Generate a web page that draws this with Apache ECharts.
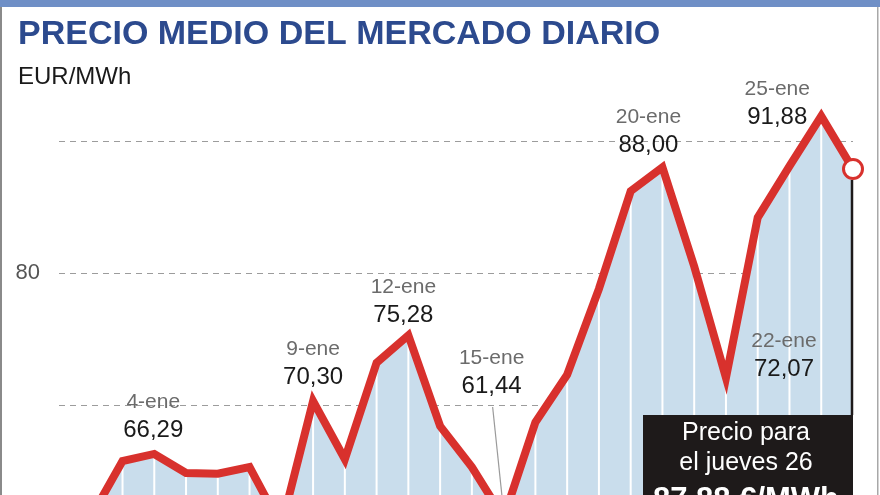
<!DOCTYPE html>
<html>
<head>
<meta charset="utf-8">
<script src="https://cdn.jsdelivr.net/npm/echarts@6/dist/echarts.min.js"></script>
<style>
  html, body { margin: 0; padding: 0; background: #ffffff; }
  #chart { width: 880px; height: 495px; }
</style>
</head>
<body>
<div id="chart"></div>
<script>
// ---- data ----
const days = ['1-ene','2-ene','3-ene','4-ene','5-ene','6-ene','7-ene','8-ene','9-ene','10-ene','11-ene','12-ene','13-ene',
              '14-ene','15-ene','16-ene','17-ene','18-ene','19-ene','20-ene','21-ene','22-ene','23-ene','24-ene','25-ene','26-ene'];
const prices = [60.0, 61.5, 65.75, 66.29, 64.85, 64.8, 65.3, 60.8, 70.30, 65.9, 73.2, 75.28, 68.4,
                65.3, 61.44, 68.7, 72.3, 78.8, 86.2, 88.00, 80.5, 72.07, 84.2, 88.1, 91.88, 87.88];
const labeledDays = ['4-ene','9-ene','12-ene','15-ene','20-ene','22-ene','25-ene'];
const yLabelTicks = [80];
const titleText = 'PRECIO MEDIO DEL MERCADO DIARIO';
const unitText = 'EUR/MWh';
const boxLines = ['Precio para', 'el jueves 26', '87,88 €/MWh'];

// ---- styles ----
const FONT = '"Liberation Sans", Arial, Helvetica, sans-serif';
const RED = '#d8312d';
const labelOffsets = {
  '4-ene': [-1, -4], '9-ene': [0, -4], '12-ene': [-5, 0], '15-ene': [-12, -112],
  '20-ene': [-14, -2], '22-ene': [58, 12], '25-ene': [-44, 21]
};
const fmt = v => v.toFixed(2).replace('.', ',');

const lastIdx = prices.length - 1;
const lineData = prices.map((v, i) => {
  const item = { value: v };
  const d = days[i];
  if (labeledDays.indexOf(d) >= 0) {
    item.label = {
      show: true,
      position: 'top',
      distance: 5,
      offset: labelOffsets[d],
      formatter: '{d|' + d + '}\n{v|' + fmt(v) + '}'
    };
  }
  if (i === lastIdx) {
    item.symbol = 'circle';
    item.symbolSize = 19;
    item.itemStyle = { color: '#ffffff', borderColor: RED, borderWidth: 3 };
  }
  return item;
});

const chart = echarts.init(document.getElementById('chart'), null, { renderer: 'canvas' });

const option = {
  animation: false,
  backgroundColor: '#ffffff',
  grid: { left: 59, width: 794, top: 141, height: 528, containLabel: false, outerBoundsMode: 'none' },
  xAxis: {
    type: 'category',
    data: days,
    boundaryGap: false,
    axisLine: { show: false }, axisTick: { show: false }, axisLabel: { show: false },
    splitLine: { show: false }
  },
  yAxis: {
    type: 'value',
    min: 50, max: 90, interval: 10,
    axisLine: { show: false }, axisTick: { show: false },
    axisLabel: {
      margin: 19,
      fontFamily: FONT, fontSize: 22, color: '#555555',
      formatter: v => (yLabelTicks.indexOf(v) >= 0 ? String(v) : '')
    },
    splitLine: { show: true, lineStyle: { color: '#9c9c9c', width: 1, type: [6, 5] } }
  },
  series: [
    {
      name: 'area', type: 'line', data: prices, z: 1, clip: false,
      symbol: 'none', silent: true,
      lineStyle: { width: 0, opacity: 0 },
      areaStyle: { color: '#c9ddec', opacity: 1, origin: 'start' }
    },
    {
      name: 'sep', type: 'bar', data: prices, z: 2, clip: false,
      barWidth: 2, silent: true,
      itemStyle: { color: '#ffffff' }
    },
    {
      name: 'precio', type: 'line', data: lineData, z: 3, clip: false,
      symbol: 'circle', symbolSize: 2, showSymbol: true, showAllSymbol: true,
      itemStyle: { color: RED },
      lineStyle: { color: RED, width: 8, join: 'miter', miterLimit: 10 },
      label: {
        fontFamily: FONT,
        align: 'center',
        rich: {
          d: { fontFamily: FONT, fontSize: 21, color: '#6b6b6b', lineHeight: 28, align: 'center' },
          v: { fontFamily: FONT, fontSize: 24, color: '#1a1a1a', lineHeight: 28, align: 'center' }
        }
      }
    }
  ]
};
chart.setOption(option);

// ---- annotations anchored to data points ----
const idx15 = days.indexOf('15-ene');
const p15 = chart.convertToPixel({ gridIndex: 0 }, [idx15, prices[idx15]]);
const off15 = labelOffsets['15-ene'];
const pLast = chart.convertToPixel({ gridIndex: 0 }, [lastIdx, prices[lastIdx]]);

const boxLeft = 643, boxTop = 415, boxRight = pLast[0];
const boxCx = (boxLeft + boxRight) / 2 - 2;

chart.setOption({
  graphic: [
    // frame
    { type: 'rect', z: 100, shape: { x: 0, y: 0, width: 880, height: 7 }, style: { fill: '#6f8fc6' } },
    { type: 'rect', z: 100, shape: { x: 0, y: 7, width: 2, height: 488 }, style: { fill: '#8a8a8a' } },
    { type: 'rect', z: 100, shape: { x: 877, y: 7, width: 1.5, height: 488 }, style: { fill: '#a8a8a8' } },
    // title
    { type: 'text', z: 100, x: 18, y: 35,
      style: { text: titleText, font: 'bold 34px ' + FONT, fill: '#2c4a8e', textVerticalAlign: 'middle' } },
    { type: 'text', z: 100, x: 18, y: 77,
      style: { text: unitText, font: '24px ' + FONT, fill: '#1a1a1a', textVerticalAlign: 'middle' } },
    // leader line for 15-ene
    { type: 'line', z: 100,
      shape: { x1: p15[0] + off15[0] + 1, y1: p15[1] - 5 + off15[1] + 6, x2: p15[0], y2: p15[1] - 6 },
      style: { stroke: '#9a9a9a', lineWidth: 1.2 } },
    // connector from last point to box
    { type: 'line', z: 100,
      shape: { x1: pLast[0] - 1, y1: pLast[1] + 11, x2: pLast[0] - 1, y2: boxTop },
      style: { stroke: '#1e1a1a', lineWidth: 2.5 } },
    // black box
    { type: 'rect', z: 100, shape: { x: boxLeft, y: boxTop, width: boxRight - boxLeft, height: 100 },
      style: { fill: '#1e1a1a' } },
    { type: 'text', z: 101, x: boxCx, y: 433,
      style: { text: boxLines[0], font: '25px ' + FONT, fill: '#ffffff', textAlign: 'center', textVerticalAlign: 'middle' } },
    { type: 'text', z: 101, x: boxCx, y: 463,
      style: { text: boxLines[1], font: '25px ' + FONT, fill: '#ffffff', textAlign: 'center', textVerticalAlign: 'middle' } },
    { type: 'text', z: 101, x: boxCx, y: 500,
      style: { text: boxLines[2], font: 'bold 31px ' + FONT, fill: '#ffffff', textAlign: 'center', textVerticalAlign: 'middle' } }
  ]
});
</script>
</body>
</html>
